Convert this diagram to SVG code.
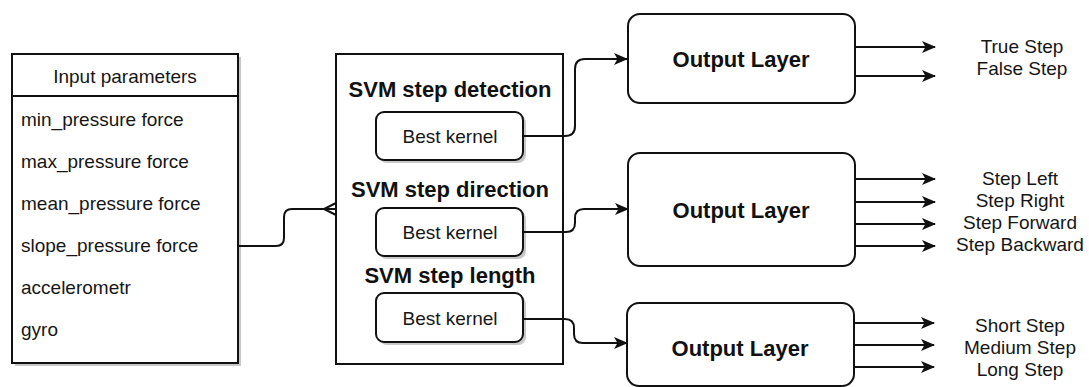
<svg xmlns="http://www.w3.org/2000/svg" width="1089" height="387" viewBox="0 0 1089 387">
  <style>
    .box { fill: #ffffff; stroke: #111111; stroke-width: 2; }
    .shadow { fill: #c8c8c8; }
    .wire { fill: none; stroke: #111111; stroke-width: 2; }
    .txt { font-family: "Liberation Sans", Arial, sans-serif; font-size: 19px; fill: #161616; }
    .bold { font-family: "Liberation Sans", Arial, sans-serif; font-size: 22px; font-weight: bold; fill: #111111; }
    .mid { text-anchor: middle; }
  </style>
  <defs>
    <marker id="arrow" viewBox="0 0 14 12" refX="13" refY="6" markerWidth="14" markerHeight="12" markerUnits="userSpaceOnUse" orient="auto">
      <path d="M0,0 L14,6 L0,12 L3.5,6 Z" fill="#111111"/>
    </marker>
  </defs>
  <rect width="1089" height="387" fill="#ffffff"/>

  <!-- input parameter table -->
  <g id="input-parameters">
    <rect class="shadow" x="15" y="57" width="226" height="309"/>
    <rect class="box" x="12" y="54" width="226" height="309"/>
    <line x1="12" y1="96" x2="238" y2="96" stroke="#111111" stroke-width="2"/>
    <text class="txt mid" x="125" y="83">Input parameters</text>
    <text class="txt" x="21" y="126">min_pressure force</text>
    <text class="txt" x="21" y="168">max_pressure force</text>
    <text class="txt" x="21" y="210">mean_pressure force</text>
    <text class="txt" x="21" y="252">slope_pressure force</text>
    <text class="txt" x="21" y="294">accelerometr</text>
    <text class="txt" x="21" y="336">gyro</text>
  </g>

  <!-- SVM container -->
  <g id="svm-models">
    <rect class="box" x="336" y="54" width="227" height="310"/>
    <text class="bold mid" x="450" y="97">SVM step detection</text>
    <text class="bold mid" x="450" y="197">SVM step direction</text>
    <text class="bold mid" x="450" y="283">SVM step length</text>
  </g>

  <g id="kernel-detection">
    <rect class="shadow" x="379" y="115" width="147" height="48" rx="8"/>
    <rect class="box" x="376" y="112" width="147" height="48" rx="8"/>
    <text class="txt mid" x="450" y="143">Best kernel</text>
  </g>
  <g id="kernel-direction">
    <rect class="shadow" x="379" y="211" width="147" height="48" rx="8"/>
    <rect class="box" x="376" y="208" width="147" height="48" rx="8"/>
    <text class="txt mid" x="450" y="239">Best kernel</text>
  </g>
  <g id="kernel-length">
    <rect class="shadow" x="379" y="296" width="147" height="49" rx="8"/>
    <rect class="box" x="376" y="293" width="147" height="49" rx="8"/>
    <text class="txt mid" x="450" y="325">Best kernel</text>
  </g>

  <!-- output layers -->
  <g id="output-detection">
    <rect class="box" x="628" y="14" width="227" height="89" rx="12" stroke-width="1.6"/>
    <text class="bold mid" x="741" y="67">Output Layer</text>
    <text class="txt mid" x="1022" y="53">True Step</text>
    <text class="txt mid" x="1022" y="75">False Step</text>
  </g>
  <g id="output-direction">
    <rect class="box" x="628" y="153" width="227" height="113" rx="12" stroke-width="1.6"/>
    <text class="bold mid" x="741" y="218">Output Layer</text>
    <text class="txt mid" x="1020" y="185">Step Left</text>
    <text class="txt mid" x="1020" y="207">Step Right</text>
    <text class="txt mid" x="1020" y="229">Step Forward</text>
    <text class="txt mid" x="1020" y="251">Step Backward</text>
  </g>
  <g id="output-length">
    <rect class="box" x="627" y="303" width="227" height="83" rx="12" stroke-width="1.6"/>
    <text class="bold mid" x="740" y="356">Output Layer</text>
    <text class="txt mid" x="1020" y="332">Short Step</text>
    <text class="txt mid" x="1020" y="354">Medium Step</text>
    <text class="txt mid" x="1020" y="376">Long Step</text>
  </g>

  <!-- connectors -->
  <g id="connectors">
    <!-- inputs to SVM container, crow's foot end -->
    <path class="wire" d="M238,246 H276 Q284,246 284,238 V217 Q284,209 292,209 H336"/>
    <path class="wire" d="M336,203 L324,209 L336,215"/>

    <!-- kernels to output layers -->
    <path class="wire" d="M523,136 H565 Q575,136 575,126 V69 Q575,59 585,59 H627" marker-end="url(#arrow)"/>
    <path class="wire" d="M523,232 H566 Q575,232 575,223 V218 Q575,209 584,209 H628" marker-end="url(#arrow)"/>
    <path class="wire" d="M523,319 H565 Q574,319 574,328 V334 Q574,343 583,343 H627" marker-end="url(#arrow)"/>

    <!-- detection outputs -->
    <path class="wire" d="M855,47 H935" marker-end="url(#arrow)"/>
    <path class="wire" d="M855,76 H935" marker-end="url(#arrow)"/>
    <!-- direction outputs -->
    <path class="wire" d="M855,179 H935" marker-end="url(#arrow)"/>
    <path class="wire" d="M855,202 H935" marker-end="url(#arrow)"/>
    <path class="wire" d="M855,224 H935" marker-end="url(#arrow)"/>
    <path class="wire" d="M855,246 H935" marker-end="url(#arrow)"/>
    <!-- length outputs -->
    <path class="wire" d="M854,323 H934" marker-end="url(#arrow)"/>
    <path class="wire" d="M854,345 H934" marker-end="url(#arrow)"/>
    <path class="wire" d="M854,367 H934" marker-end="url(#arrow)"/>
  </g>
</svg>
